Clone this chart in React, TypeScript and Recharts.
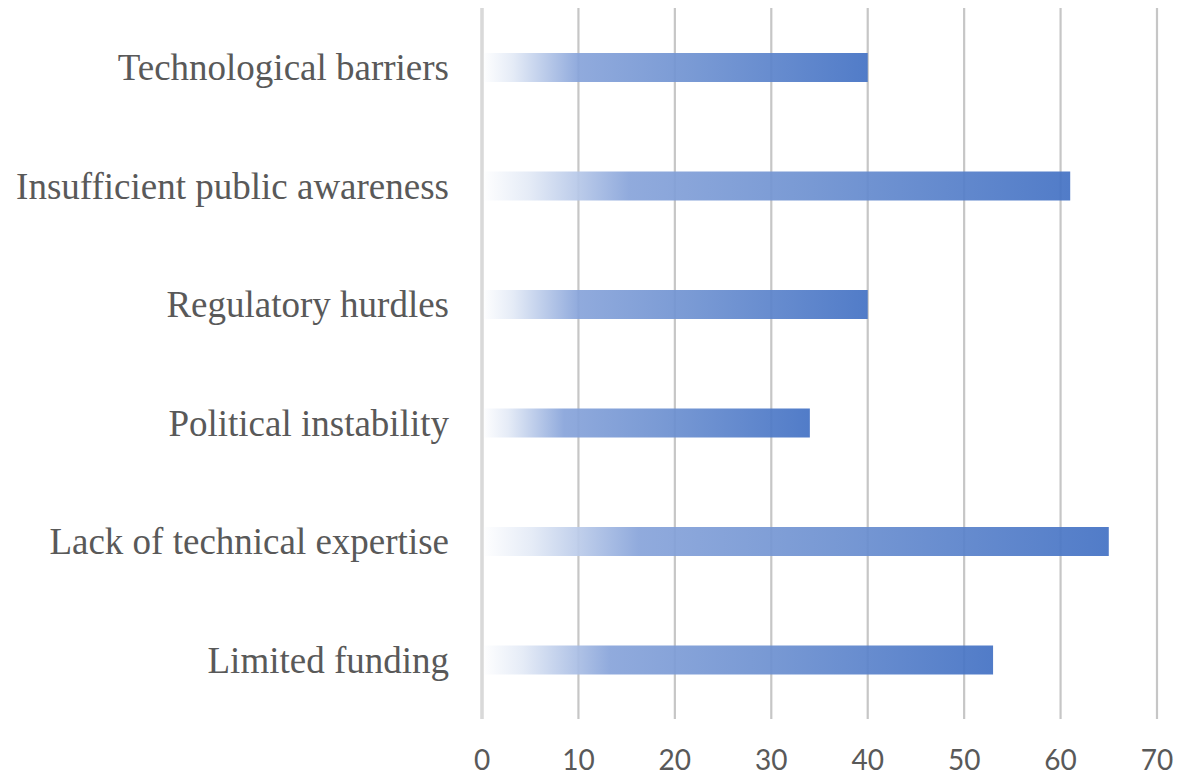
import React from 'react';
import { BarChart, Bar, XAxis, YAxis, CartesianGrid } from 'recharts';

const categories = [
  'Technological barriers',
  'Insufficient public awareness',
  'Regulatory hurdles',
  'Political instability',
  'Lack of technical expertise',
  'Limited funding',
];
const values = [40, 61, 40, 34, 65, 53];
const xTicks = [0, 10, 20, 30, 40, 50, 60, 70];

const data = categories.map((name, i) => ({ name, value: values[i] }));

export default function App() {
  return (
    <div style={{ width: 1179, height: 778, background: '#fff' }}>
      <style>{`body{margin:0}`}</style>
      <BarChart
        width={1179}
        height={778}
        data={data}
        layout="vertical"
        margin={{ top: 8, right: 22, bottom: 0, left: 0 }}
        barSize={29}
      >
        <defs>
          <linearGradient id="barFill" x1="0" y1="0" x2="1" y2="0">
            <stop offset="0%" stopColor="#ffffff" />
            <stop offset="8%" stopColor="#e3eaf6" />
            <stop offset="25%" stopColor="#88a4da" />
            <stop offset="55%" stopColor="#6f92d1" />
            <stop offset="100%" stopColor="#4472c4" />
          </linearGradient>
        </defs>
        <CartesianGrid horizontal={false} stroke="#c6c6c6" strokeWidth={2.2} />
        <XAxis
          type="number"
          domain={[0, 70]}
          ticks={xTicks}
          axisLine={false}
          tickLine={false}
          tickSize={0}
          height={59}
          tickMargin={31}
          tick={{ fontFamily: 'Lato', fontSize: 28, fill: '#595959' }}
        />
        <YAxis
          type="category"
          dataKey="name"
          width={482}
          axisLine={{ stroke: '#d9d9d9', strokeWidth: 3.5 }}
          tickLine={false}
          tickSize={0}
          tickMargin={33}
          tick={{ fontFamily: '"Liberation Serif", serif', fontSize: 37, fill: '#595959' }}
        />
        <Bar dataKey="value" fill="url(#barFill)" fillOpacity={0.93} isAnimationActive={false} />
      </BarChart>
    </div>
  );
}
